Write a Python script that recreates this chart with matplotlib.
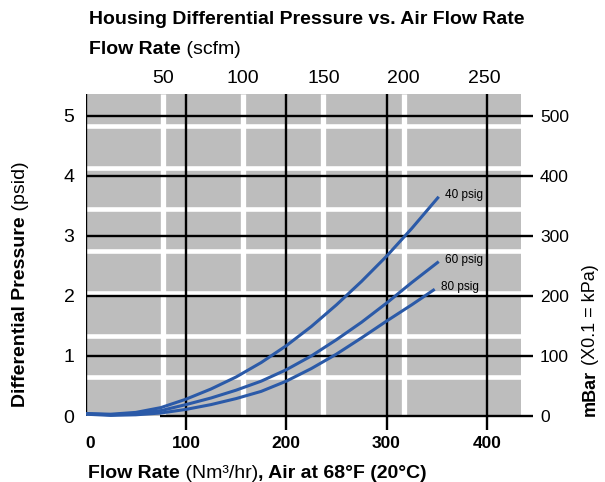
import matplotlib
matplotlib.use("Agg")
import matplotlib.pyplot as plt
from matplotlib.patches import Rectangle

plt.rcParams['font.family'] = ['Liberation Sans', 'DejaVu Sans']

# flow rate in Nm3/hr, pressure drop in psid
flow = [0, 25, 50, 75, 100, 125, 150, 175, 200, 225, 250, 275, 300, 325, 352]
psid_40 = [0.04, 0.03, 0.06, 0.14, 0.28, 0.45, 0.65, 0.89, 1.17, 1.49, 1.85, 2.24, 2.66, 3.12, 3.65]
psid_60 = [0.04, 0.02, 0.04, 0.09, 0.19, 0.30, 0.43, 0.58, 0.77, 1.00, 1.27, 1.56, 1.88, 2.22, 2.57]
flow_80 = [0, 25, 50, 75, 100, 125, 150, 175, 200, 225, 250, 275, 300, 325, 348]
psid_80 = [0.03, 0.01, 0.02, 0.05, 0.11, 0.19, 0.29, 0.41, 0.58, 0.79, 1.03, 1.30, 1.58, 1.85, 2.11]
curve_labels = ["40 psig", "60 psig", "80 psig"]

x_ticks = [0, 100, 200, 300, 400]
y_ticks = [0, 1, 2, 3, 4, 5]
mbar_ticks = [0, 100, 200, 300, 400, 500]
scfm_ticks = [50, 100, 150, 200, 250]
scfm_white = [50, 100, 150, 200]
white_psid = [0.65, 1.34, 2.04, 2.74, 3.44, 4.13, 4.83]

W, H = 605, 482
fig = plt.figure(figsize=(W / 100, H / 100), dpi=100)

left_px, right_px, top_px, bot_px = 85.7, 533, 94, 430
ax = fig.add_axes([left_px / W, 1 - bot_px / H,
                   (right_px - left_px) / W, (bot_px - top_px) / H])
xmax, ytop, ybot = 446, 5.36, -0.233
gray_right = 434
ax.set_xlim(0, xmax)
ax.set_ylim(ybot, ytop)

def to_nm3(s):
    return s * 1.6 - 3

def to_scfm(x):
    return (x + 3) / 1.6

blue = '#2b5aa8'
ax.add_patch(Rectangle((0, 0), gray_right, ytop, color='#bdbdbd', lw=0, zorder=0))
ax.vlines([to_nm3(s) for s in scfm_white], 0, ytop, color='white', lw=3.8, zorder=1)
ax.hlines(white_psid, 0, gray_right, color='white', lw=3.3, zorder=1)

ax.hlines(y_ticks[1:], 0, xmax, color='black', lw=1.7, zorder=2)
ax.hlines(0, 74, xmax, color='black', lw=1.7, zorder=2)
ax.vlines(x_ticks[1:], ybot, ytop, color='black', lw=1.7, zorder=2)
ax.vlines(0, 0, ytop, color='black', lw=1.7, zorder=2)

for xs, ys in [(flow, psid_40), (flow, psid_60), (flow_80, psid_80)]:
    ax.plot(xs, ys, color=blue, lw=2.2, zorder=3,
            solid_joinstyle='round', solid_capstyle='butt')
ends = [(flow[-1], psid_40[-1]), (flow[-1], psid_60[-1]), (flow_80[-1], psid_80[-1])]
for (xe, ye), lab in zip(ends, curve_labels):
    ax.text(xe + 6, ye + 0.03, lab, fontsize=8.5, va='center', ha='left', zorder=4)

for sp in ax.spines.values():
    sp.set_visible(False)
ax.set_xticks(x_ticks)
ax.set_yticks(y_ticks)
ax.tick_params(axis='x', length=0, pad=4, labelsize=12.5)
ax.tick_params(axis='y', length=0, pad=8, labelsize=14)
for t in ax.get_xticklabels():
    t.set_fontweight('bold')
ax.xaxis.get_major_ticks()[0].label1.set_horizontalalignment('left')

top = ax.secondary_xaxis('top', functions=(to_scfm, to_nm3))
top.set_xticks(scfm_ticks)
top.tick_params(length=0, pad=5, labelsize=14)
top.spines['top'].set_visible(False)

right = ax.secondary_yaxis('right', functions=(lambda y: y * 100, lambda m: m / 100))
right.set_yticks(mbar_ticks)
right.tick_params(length=0, pad=5, labelsize=12.5)
right.spines['right'].set_visible(False)

renderer = fig.canvas.get_renderer()

def rich(x, y, parts, size, rotation=0):
    # pieces of text in different weights, placed one after another (pixel coords)
    for s, w in parts:
        t = fig.text(x / W, 1 - y / H, s, fontsize=size, fontweight=w,
                     rotation=rotation, rotation_mode='anchor',
                     ha='left', va='baseline')
        bb = t.get_window_extent(renderer)
        if rotation:
            y -= bb.height
        else:
            x += bb.width

rich(89, 24.5, [("Housing Differential Pressure vs. Air Flow Rate", 'bold')], 14)
rich(89, 54.5, [("Flow Rate", 'bold'), (" (scfm)", 'normal')], 14)
rich(88, 478, [("Flow Rate", 'bold'), (" (Nm³/hr)", 'normal'),
               (", Air at 68°F (20°C)", 'bold')], 14)
rich(25, 407, [("Differential Pressure", 'bold'), (" (psid)", 'normal')], 14, rotation=90)
rich(595, 416, [("mBar", 'bold'), (" (X0.1 = kPa)", 'normal')], 13, rotation=90)

fig.savefig("out.png", dpi=100)
